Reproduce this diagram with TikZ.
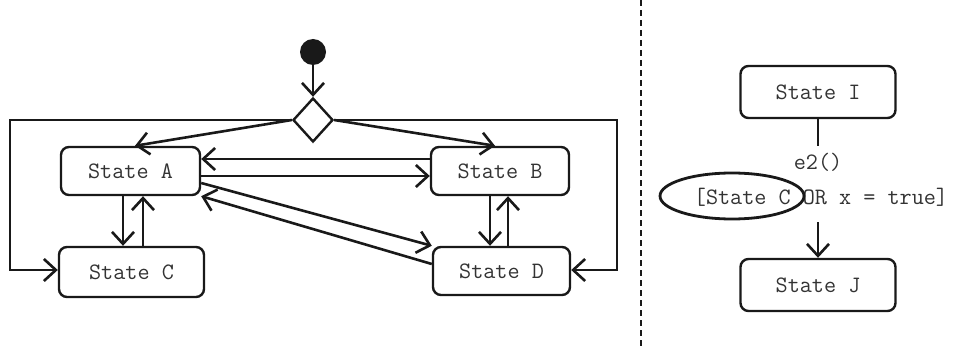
\documentclass[tikz,border=0pt]{standalone}
\usetikzlibrary{arrows.meta,shapes.geometric}
\begin{document}
\begin{tikzpicture}[x=1pt,y=-1pt,
  every node/.style={font=\ttfamily\fontsize{23.5}{26}\selectfont, text=black!80},
  ln/.style={line width=2.6pt, draw=black!90},
  arr/.style={ln, -{Straight Barb[length=12pt,width=22pt]}},
  statebox/.style={draw=black!90, line width=2.4pt, rounded corners=8pt, inner sep=0pt}]
\useasboundingbox (0,0) rectangle (955,350);
% left part
\node[circle, fill=black!90, minimum size=26pt, inner sep=0pt] (init) at (313,52) {};
\node[diamond, draw=black!90, line width=2.4pt, minimum width=40pt, minimum height=44pt, inner sep=0pt] (dia) at (313,120) {};
\node[statebox, minimum width=139pt, minimum height=48pt] (A) at (130.5,171) {State A};
\node[statebox, minimum width=138pt, minimum height=48pt] (B) at (500,171) {State B};
\node[statebox, minimum width=145pt, minimum height=50pt] (C) at (131.5,272) {State C};
\node[statebox, minimum width=137pt, minimum height=48pt] (D) at (501.5,271) {State D};
\draw[arr] (init) -- (dia.north);
\draw[arr] (dia.west) -- (A.north -| 135,0);
\draw[arr] (dia.east) -- (B.north -| 495,0);
\draw[arr] (dia.west) -- (10,120) -- (10,270) -- (C.west |- 0,270);
\draw[arr] (dia.east) -- (617,120) -- (617,270) -- (D.east |- 0,270);
\draw[arr] (B.west |- 0,159) -- (A.east |- 0,159);
\draw[arr] (A.east |- 0,176) -- (B.west |- 0,176);
\draw[arr] (A.south -| 123,0) -- (C.north -| 123,0);
\draw[arr] (C.north -| 143,0) -- (A.south -| 143,0);
\draw[arr] (B.south -| 490,0) -- (D.north -| 490,0);
\draw[arr] (D.north -| 508,0) -- (B.south -| 508,0);
\draw[arr] (A.east |- 0,183) -- (D.north west);
\draw[arr] (D.west |- 0,264) -- (A.south east);
% separator
\draw[line width=1.6pt, draw=black!90, dash pattern=on 6pt off 4pt] (641,0) -- (641,350);
% right part
\node[statebox, minimum width=155pt, minimum height=52pt] (I) at (818,92) {State I};
\node[statebox, minimum width=155pt, minimum height=52pt] (J) at (818,285) {State J};
\coordinate (tend) at (818,146);
\coordinate (tstart) at (818,222);
\node (e2) at (818,162) {e2()};
\node (guard) at (821,197) {[State C OR x = true]};
\node[ellipse, draw=black!90, line width=2.8pt, minimum width=144pt, minimum height=46pt, inner sep=0pt] (circ) at (732,196) {};
\draw[ln] (I.south) -- (tend);
\draw[arr] (tstart) -- (J.north);
\end{tikzpicture}
\end{document}
